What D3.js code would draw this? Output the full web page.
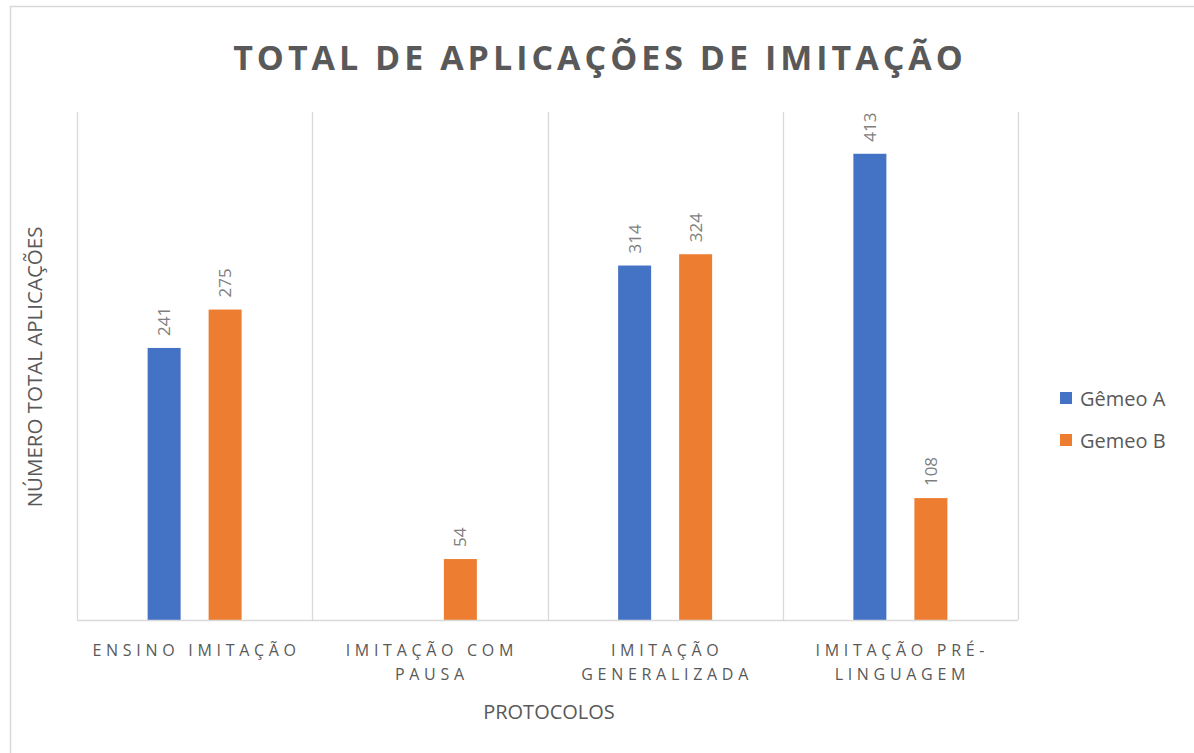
<!DOCTYPE html>
<html>
<head>
<meta charset="utf-8">
<script src="https://cdn.jsdelivr.net/npm/d3@7"></script>
<style>
  body { margin: 0; background: #fff; }
  svg { display: block; }
  text { font-family: "Open Sans", "Noto Sans", sans-serif; fill: #595959; }
</style>
</head>
<body>
<svg id="chart" width="1194" height="753"></svg>
<script>

var categories = [
  ['ENSINO IMITAÇÃO'],
  ['IMITAÇÃO COM', 'PAUSA'],
  ['IMITAÇÃO', 'GENERALIZADA'],
  ['IMITAÇÃO PRÉ-', 'LINGUAGEM']
];
var seriesNames = ['Gêmeo A', 'Gemeo B'];
var gemeoA = [241, null, 314, 413];
var gemeoB = [275, 54, 324, 108];
var colors = ['#4472C4', '#ED7D31'];

var svg = d3.select('#chart');
var m = { left: 77, right: 1018, top: 112, bottom: 620 };

// Outer frame (only left/top edges are visible in the crop).
svg.append('rect')
  .attr('x', 10.5).attr('y', 6.5)
  .attr('width', 1400).attr('height', 1000)
  .attr('fill', 'none').attr('stroke', '#d9d9d9').attr('stroke-width', 1.5);

var x0 = d3.scaleBand()
  .domain(d3.range(categories.length))
  .range([m.left, m.right])
  .padding(0);

var bw = x0.bandwidth();
var x1 = d3.scaleBand()
  .domain(d3.range(seriesNames.length))
  .range([bw / 2 - 47, bw / 2 + 47])
  .paddingInner(0.459);

var y = d3.scaleLinear().domain([0, 450]).range([m.bottom, m.top]);

// Vertical category separators.
var seps = d3.range(categories.length + 1).map(function(i) {
  return i < categories.length ? x0(i) : m.right;
});
svg.selectAll('line.sep').data(seps).enter().append('line')
  .attr('class', 'sep')
  .attr('x1', function(d) { return Math.round(d) + 0.5; })
  .attr('x2', function(d) { return Math.round(d) + 0.5; })
  .attr('y1', m.top).attr('y2', m.bottom)
  .attr('stroke', '#d9d9d9').attr('stroke-width', 1.3);

// Bars.
var rows = categories.map(function(c, i) {
  return [gemeoA[i], gemeoB[i]];
});

var groups = svg.selectAll('g.cat').data(rows).enter().append('g')
  .attr('class', 'cat')
  .attr('transform', function(d, i) { return 'translate(' + x0(i) + ',0)'; });

var cells = groups.selectAll('g.bar')
  .data(function(d) {
    return d.map(function(v, s) { return { v: v, s: s }; })
      .filter(function(o) { return o.v != null; });
  })
  .enter().append('g').attr('class', 'bar');

cells.append('rect')
  .attr('x', function(d) { return x1(d.s); })
  .attr('width', x1.bandwidth())
  .attr('y', function(d) { return y(d.v); })
  .attr('height', function(d) { return y(0) - y(d.v); })
  .attr('fill', function(d) { return colors[d.s]; });

// Rotated value labels above the bars.
cells.append('text')
  .attr('transform', function(d) {
    var cx = x1(d.s) + x1.bandwidth() / 2 + 6;
    var cy = y(d.v) - 12;
    return 'translate(' + cx + ',' + cy + ') rotate(-90)';
  })
  .attr('text-anchor', 'start')
  .style('font-size', '17px')
  .style('fill', '#7f7f7f')
  .text(function(d) { return d.v; });

// Baseline.
svg.append('line')
  .attr('x1', m.left).attr('x2', m.right)
  .attr('y1', m.bottom + 0.5).attr('y2', m.bottom + 0.5)
  .attr('stroke', '#d9d9d9').attr('stroke-width', 1.5);

// Category labels.
var catLabels = svg.selectAll('text.cat').data(categories).enter().append('text')
  .attr('class', 'cat')
  .attr('text-anchor', 'middle')
  .style('font-size', '16px')
  .style('letter-spacing', '4.7px');
catLabels.selectAll('tspan')
  .data(function(d, i) { return d.map(function(t) { return { t: t, i: i }; }); })
  .enter().append('tspan')
  .attr('x', function(d) { return x0(d.i) + bw / 2 + 2; })
  .attr('y', function(d, j) { return 656 + j * 24; })
  .text(function(d) { return d.t; });

// Title.
svg.append('text')
  .attr('x', 600).attr('y', 70)
  .attr('text-anchor', 'middle')
  .style('font-size', '34px').style('font-weight', 'bold')
  .style('letter-spacing', '4px')
  .text('TOTAL DE APLICAÇÕES DE IMITAÇÃO');

// Axis titles.
svg.append('text')
  .attr('x', 549).attr('y', 719)
  .attr('text-anchor', 'middle')
  .style('font-size', '20px')
  .text('PROTOCOLOS');

svg.append('text')
  .attr('transform', 'translate(42,367) rotate(-90)')
  .attr('text-anchor', 'middle')
  .style('font-size', '20.5px')
  .text('NÚMERO TOTAL APLICAÇÕES');

// Legend.
var legend = svg.selectAll('g.leg').data(seriesNames).enter().append('g')
  .attr('class', 'leg')
  .attr('transform', function(d, i) { return 'translate(1060,' + (392 + i * 42) + ')'; });
legend.append('rect').attr('width', 12).attr('height', 12)
  .attr('fill', function(d, i) { return colors[i]; });
legend.append('text').attr('x', 20).attr('y', 14)
  .style('font-size', '20px')
  .text(function(d) { return d; });

</script>
</body>
</html>
